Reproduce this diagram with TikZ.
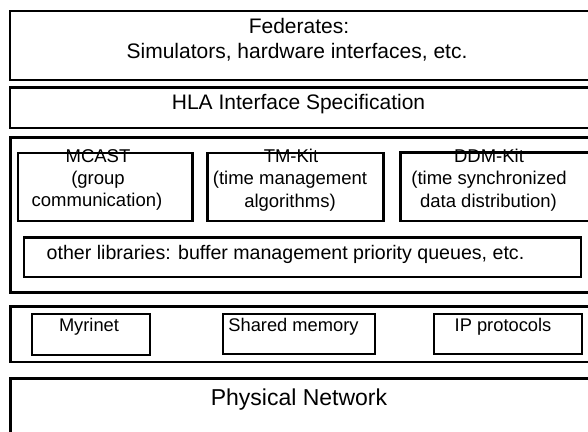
\documentclass[tikz,border=0pt]{standalone}
\usepackage{fontspec}
\setmainfont{Liberation Sans}
\begin{document}
\begin{tikzpicture}[x=1pt,y=-1pt,
  outerbox/.style={draw=black,line width=2.5pt},
  innerbox/.style={draw=black,line width=2.2pt},
  big/.style={inner sep=0pt,anchor=base,font=\fontsize{21}{25}\selectfont},
  huge/.style={inner sep=0pt,anchor=base,font=\fontsize{23}{27}\selectfont},
  lib/.style={inner sep=0pt,anchor=base,font=\fontsize{18.5}{22}\selectfont},
  libwide/.style={inner sep=0pt,anchor=base,font=\fontsize{19.6}{23}\selectfont},
  net/.style={inner sep=0pt,anchor=base,font=\fontsize{18.3}{22}\selectfont}]
\useasboundingbox (0,0) rectangle (588,431);
\clip (0,0) rectangle (588,431);
\fill[white] (0,0) rectangle (588,431);
% layer boxes
\draw[outerbox] (10,11) rectangle (600,80);
\draw[outerbox] (10,87.5) rectangle (600,128);
\draw[outerbox] (10.5,137.5) rectangle (600,292.5);
\draw[outerbox] (10.5,306.5) rectangle (600,362);
\draw[outerbox] (10.5,378.5) rectangle (600,445);
% library boxes
\draw[innerbox] (18,153) rectangle (192.5,221);
\draw[innerbox] (207.5,153) rectangle (383.5,221);
\draw[innerbox] (400.5,152.5) rectangle (600,221);
\draw[innerbox] (24,237.5) rectangle (581,277);
% network boxes
\draw[innerbox] (32,314) rectangle (150,355);
\draw[innerbox] (223,314) rectangle (375,354);
\draw[innerbox] (434,314) rectangle (582,354);
% texts
\node[big] (fed1) at (299,33) {Federates:};
\node[big] (fed2) at (297,58) {Simulators, hardware interfaces, etc.};
\node[big] (hla) at (298.5,109) {HLA Interface Specification};
\node[lib] (mc1) at (98,162) {MCAST};
\node[lib] (mc2) at (98,184.5) {(group};
\node[lib] (mc3) at (97,206.5) {communication)};
\node[lib] (tm1) at (291,162) {TM-Kit};
\node[lib] (tm2) at (290,184.5) {(time management};
\node[lib] (tm3) at (290,207) {algorithms)};
\node[lib] (dd1) at (489,162) {DDM-Kit};
\node[lib] (dd2) at (489,184.5) {(time synchronized};
\node[lib] (dd3) at (488.5,207) {data distribution)};
\node[libwide] (oth) at (285.5,259) {other libraries: buffer management priority queues, etc.};
\node[net] (myr) at (89,331.5) {Myrinet};
\node[net] (shm) at (293.5,331.5) {Shared memory};
\node[net] (ip) at (503,331.5) {IP protocols};
\node[huge] (phy) at (299,405) {Physical Network};
\end{tikzpicture}
\end{document}
